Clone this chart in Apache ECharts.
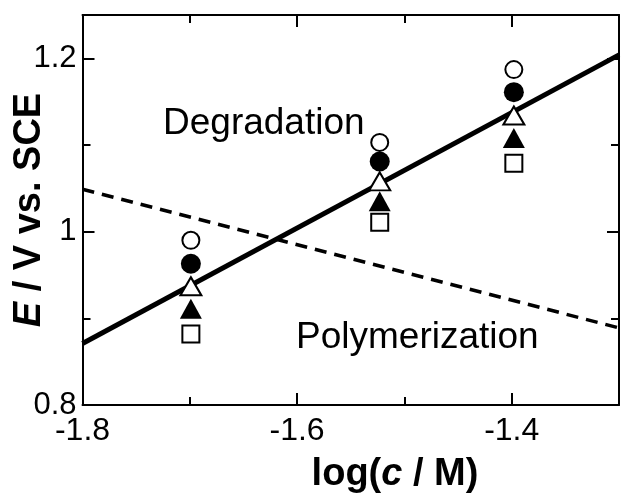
<!DOCTYPE html>
<html>
<head>
<meta charset="utf-8">
<script src="https://cdn.jsdelivr.net/npm/echarts@6/dist/echarts.min.js"></script>
<style>
html,body{margin:0;padding:0;background:#fff;}
#chart{width:622px;height:494px;}
</style>
</head>
<body>
<div id="chart"></div>
<script>
// ---- data ----
const logc = [-1.699, -1.523, -1.398];
const openCircle = [0.990, 1.103, 1.187];
const filledCircle = [0.963, 1.081, 1.161];
const openTriangle = [0.937, 1.058, 1.134];
const filledTriangle = [0.911, 1.035, 1.108];
const openSquare = [0.882, 1.011, 1.079];
const degradationLine = [[-1.8, 0.871], [-1.3, 1.204]];
const polymerizationLine = [[-1.8, 1.049], [-1.3, 0.889]];
const xTicks = [-1.8, -1.6, -1.4];
const yTicks = [0.8, 1.0, 1.2];

const FONT = '"Liberation Sans", Arial, Helvetica, sans-serif';
const chart = echarts.init(document.getElementById('chart'), null, {renderer: 'canvas'});

function pts(ys) { return logc.map((x, i) => [x, ys[i]]); }

const axisLineStyle = {color: '#000', width: 2};
function xAx(pos, showLabel) {
  return {
    type: 'value', position: pos, min: -1.8, max: -1.3, interval: 0.2,
    axisLine: {show: true, onZero: false, lineStyle: axisLineStyle},
    axisTick: {show: true, inside: true, length: 12, lineStyle: {color: '#000', width: 2}},
    minorTick: {show: true, splitNumber: 2, length: 8, lineStyle: {color: '#000', width: 2}},
    splitLine: {show: false}, minorSplitLine: {show: false},
    axisLabel: {show: showLabel, color: '#000', fontFamily: FONT, fontSize: 32, margin: 10,
      formatter: v => (xTicks.some(t => Math.abs(t - v) < 1e-6) ? v.toFixed(1) : '')}
  };
}
function yAx(pos, showLabel) {
  return {
    type: 'value', position: pos, min: 0.8, max: 1.25, interval: 0.2,
    axisLine: {show: true, onZero: false, lineStyle: axisLineStyle},
    axisTick: {show: true, inside: true, length: 12, lineStyle: {color: '#000', width: 2}},
    minorTick: {show: true, splitNumber: 2, length: 8, lineStyle: {color: '#000', width: 2}},
    splitLine: {show: false}, minorSplitLine: {show: false},
    axisLabel: {show: showLabel, color: '#000', fontFamily: FONT, fontSize: 31, margin: 6,
      formatter: v => (yTicks.some(t => Math.abs(t - v) < 1e-6) ? String(parseFloat(v.toFixed(2))) : '')}
  };
}

function scatter(name, data, symbol, size, filled) {
  return {
    name, type: 'scatter', data, symbol, symbolSize: size, z: 10,
    itemStyle: filled ? {color: '#000', opacity: 1} : {color: '#fff', borderColor: '#000', borderWidth: 2, opacity: 1}
  };
}

chart.setOption({
  animation: false,
  backgroundColor: '#fff',
  grid: {left: 82.5, top: 15, right: -7, bottom: 89, containLabel: false},
  xAxis: [xAx('bottom', true), xAx('top', false)],
  yAxis: [yAx('left', true), yAx('right', false)],
  series: [
    {name: 'Degradation', type: 'line', data: degradationLine, showSymbol: false, z: 3,
      lineStyle: {color: '#000', width: 5}},
    {name: 'Polymerization', type: 'line', data: polymerizationLine, showSymbol: false, z: 3,
      lineStyle: {color: '#000', width: 3.5, type: [12, 8]}},
    scatter('open circle', pts(openCircle), 'circle', 17, false),
    scatter('filled circle', pts(filledCircle), 'circle', 20, true),
    scatter('open triangle', pts(openTriangle), 'triangle', [21, 18], false),
    scatter('filled triangle', pts(filledTriangle), 'triangle', [22, 20], true),
    scatter('open square', pts(openSquare), 'rect', 17, false)
  ],
  graphic: [
    {type: 'text', x: 163, y: 124, z: 20,
      style: {text: 'Degradation', fill: '#000', font: '37px ' + FONT, verticalAlign: 'middle', align: 'left'}},
    {type: 'text', x: 296, y: 337.5, z: 20,
      style: {text: 'Polymerization', fill: '#000', font: '37px ' + FONT, verticalAlign: 'middle', align: 'left'}},
    {type: 'text', x: 395, y: 475, z: 20,
      style: {text: 'log({i|c} / M)', fill: '#000', font: 'bold 38px ' + FONT, align: 'center', verticalAlign: 'middle',
        rich: {i: {fontStyle: 'italic', fontWeight: 'bold', fontSize: 38, fontFamily: FONT}}}},
    {type: 'text', x: 30, y: 210, rotation: Math.PI / 2, z: 20,
      style: {text: '{i|E} / V vs. SCE', fill: '#000', font: 'bold 38px ' + FONT, align: 'center', verticalAlign: 'middle',
        rich: {i: {fontStyle: 'italic', fontWeight: 'bold', fontSize: 38, fontFamily: FONT}}}}
  ]
});
</script>
</body>
</html>
